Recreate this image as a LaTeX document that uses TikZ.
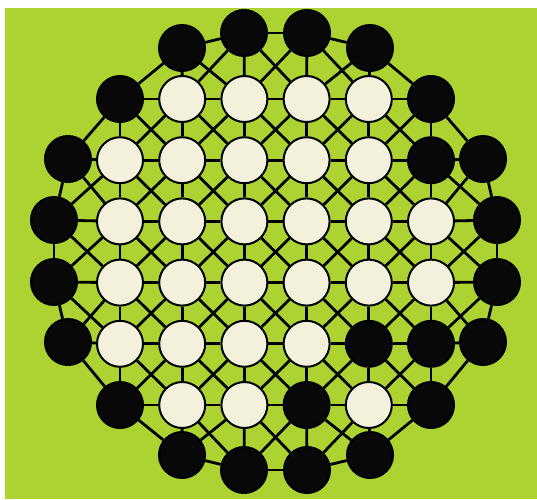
\documentclass[tikz,border=0pt]{standalone}
\definecolor{bggreen}{RGB}{172,211,50}
\definecolor{stone}{RGB}{243,241,220}
\definecolor{blk}{RGB}{8,8,8}
\makeatletter
\newcommand\IfNodeDef[2]{\ifcsname pgf@sh@ns@#1\endcsname #2\fi}
\makeatother
\begin{document}
\begin{tikzpicture}[x=1pt,y=-1pt,
  pt/.style={circle, draw=black, line width=2pt, minimum size=46pt, inner sep=0pt},
  link/.style={line width=2.8pt, draw=black}]
\fill[white] (0,0) rectangle (537,499);
\fill[bggreen] (5,8) rectangle (537,499);
\useasboundingbox (0,0) rectangle (537,499);
% inner 6x6 grid
\foreach \r/\cols in {1/{blk,stone,stone,stone,stone,blk},
                      2/{stone,stone,stone,stone,stone,blk},
                      3/{stone,stone,stone,stone,stone,stone},
                      4/{stone,stone,stone,stone,stone,stone},
                      5/{stone,stone,stone,stone,blk,blk},
                      6/{blk,stone,stone,blk,stone,blk}}{
  \foreach \f [count=\c] in \cols {
    \node[pt, fill=\f] (n-\r-\c) at ({120+(\c-1)*62.2},{99+(\r-1)*61.2}) {};
  }
}
% outer ring
\foreach \c/\x/\y in {2/182/48, 3/244/33, 4/307/33, 5/370/48}
  \node[pt, fill=blk] (n-0-\c) at (\x,\y) {};
\foreach \c/\x/\y in {2/182/455, 3/244/470, 4/307/470, 5/370/455}
  \node[pt, fill=blk] (n-7-\c) at (\x,\y) {};
\foreach \r/\x/\y in {2/68/159, 3/54/220, 4/54/282, 5/68/342}
  \node[pt, fill=blk] (n-\r-0) at (\x,\y) {};
\foreach \r/\x/\y in {2/483/159, 3/497/220, 4/497/282, 5/483/342}
  \node[pt, fill=blk] (n-\r-7) at (\x,\y) {};
% connectors between king-adjacent points
\foreach \r in {0,...,7}{
  \foreach \c in {0,...,7}{
    \pgfmathtruncatemacro\rn{\r+1}
    \pgfmathtruncatemacro\cn{\c+1}
    \pgfmathtruncatemacro\cp{\c-1}
    \IfNodeDef{n-\r-\c}{%
      \IfNodeDef{n-\r-\cn}{\draw[link] (n-\r-\c) -- (n-\r-\cn);}%
      \IfNodeDef{n-\rn-\c}{\draw[link] (n-\r-\c) -- (n-\rn-\c);}%
      \IfNodeDef{n-\rn-\cn}{\draw[link] (n-\r-\c) -- (n-\rn-\cn);}%
      \IfNodeDef{n-\rn-\cp}{\draw[link] (n-\r-\c) -- (n-\rn-\cp);}%
    }
  }
}
\end{tikzpicture}
\end{document}
